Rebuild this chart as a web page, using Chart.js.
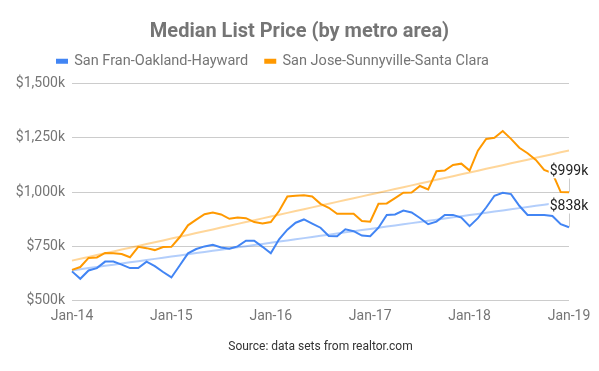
<!DOCTYPE html>
<html>
<head>
<meta charset="utf-8">
<script src="https://cdn.jsdelivr.net/npm/chart.js@4.4.1/dist/chart.umd.min.js"></script>
<style>
    html, body { margin: 0; padding: 0; background: #ffffff; }
    #wrap { width: 599px; height: 371px; }
</style>
</head>
<body>
<div id="wrap"><canvas id="priceChart" width="599" height="371"></canvas></div>
<script>
// Monthly labels Jan-14 .. Jan-19
const monthNames = ['Jan', 'Feb', 'Mar', 'Apr', 'May', 'Jun', 'Jul', 'Aug', 'Sep', 'Oct', 'Nov', 'Dec'];
const yearLabels = ['14', '15', '16', '17', '18', '19'];
const tickLabels = ['Jan-14', 'Jan-15', 'Jan-16', 'Jan-17', 'Jan-18', 'Jan-19'];

// Median list price, thousands of dollars
const sanFranValues = [
    635, 601, 639, 650, 680, 680, 666, 650, 650, 680, 659, 632,
    607, 662, 718, 738, 750, 757, 745, 739, 750, 776, 776, 748,
    718, 783, 827, 859, 874, 855, 836, 798, 797, 829, 820, 800,
    797, 836, 895, 897, 915, 906, 881, 852, 864, 895, 895, 883,
    843, 880, 929, 983, 997, 991, 937, 895, 895, 894, 890, 852,
    838
];
const sanJoseValues = [
    642, 655, 697, 699, 720, 718, 715, 700, 748, 742, 733, 747,
    748, 792, 847, 873, 898, 906, 897, 877, 883, 880, 862, 855,
    862, 913, 980, 983, 985, 980, 946, 928, 900, 900, 900, 867,
    864, 946, 948, 972, 997, 998, 1028, 1012, 1096, 1099, 1125, 1131,
    1099, 1191, 1245, 1250, 1281, 1245, 1204, 1179, 1148, 1102, 1088, 1000,
    999
];

const seriesNames = ['San Fran-Oakland-Hayward', 'San Jose-Sunnyville-Santa Clara'];
const seriesColors = ['#4285f4', '#ff9900'];
const trendColors = ['rgba(66,133,244,0.4)', 'rgba(255,153,0,0.4)'];
const sourceText = 'Source: data sets from realtor.com';

const labels = [];
yearLabels.forEach(function(y) {
    monthNames.forEach(function(m) {
        if (labels.length < sanFranValues.length) labels.push(m + '-' + y);
    });
});

// Least squares trend line over the month index
function trendLine(values) {
    const n = values.length;
    let sx = 0, sy = 0, sxy = 0, sxx = 0;
    values.forEach(function(v, i) {
        sx += i; sy += v; sxy += i * v; sxx += i * i;
    });
    const slope = (n * sxy - sx * sy) / (n * sxx - sx * sx);
    const icpt = (sy - slope * sx) / n;
    return values.map(function(v, i) { return icpt + slope * i; });
}

function fmtK(v) {
    return '$' + Math.round(v).toLocaleString('en-US') + 'k';
}

// Annotations at the last point of each series
const endLabelPlugin = {
    id: 'endLabels',
    afterDatasetsDraw(chart) {
        const ctx = chart.ctx;
        ctx.save();
        ctx.font = '14px Roboto';
        ctx.textAlign = 'center';
        ctx.textBaseline = 'middle';
        [0, 1].forEach(function(di) {
            const meta = chart.getDatasetMeta(di);
            const pt = meta.data[meta.data.length - 1];
            const data = chart.data.datasets[di].data;
            const txt = fmtK(data[data.length - 1]);
            const w = ctx.measureText(txt).width;
            const ty = pt.y - 21;
            ctx.strokeStyle = '#cccccc';
            ctx.lineWidth = 1;
            ctx.beginPath();
            ctx.moveTo(Math.round(pt.x) + 0.5, ty + 7);
            ctx.lineTo(Math.round(pt.x) + 0.5, pt.y);
            ctx.stroke();
            ctx.fillStyle = '#ffffff';
            ctx.fillRect(pt.x - w / 2 - 1, ty - 7, w + 2, 14);
            ctx.fillStyle = '#222222';
            ctx.fillText(txt, pt.x, ty);
        });
        ctx.restore();
    }
};

// Source caption under the x axis, centred on the plot area
const captionPlugin = {
    id: 'caption',
    afterDraw(chart) {
        const ctx = chart.ctx;
        const area = chart.chartArea;
        ctx.save();
        ctx.font = '12px Roboto';
        ctx.fillStyle = '#333333';
        ctx.textAlign = 'center';
        ctx.textBaseline = 'middle';
        ctx.fillText(sourceText, (area.left + area.right) / 2, 347);
        ctx.restore();
    }
};

// extra space under the legend, then nudge title / legend into place
const boxTweakPlugin = {
    id: 'boxTweak',
    beforeInit(chart) {
        const origFit = chart.legend.fit;
        chart.legend.fit = function() {
            origFit.bind(chart.legend)();
            this.height += 5;
        };
    },
    afterLayout(chart) {
        const lg = chart.legend;
        lg.left += 30;
        lg.right += 30;
        const tb = chart.titleBlock;
        const shift = 299.5 - (tb.left + tb.right) / 2;
        tb.left += shift;
        tb.right += shift;
        tb.top += 5;
        tb.bottom += 5;
    }
};

const ctx = document.getElementById('priceChart').getContext('2d');
const priceChart = new Chart(ctx, {
    type: 'line',
    data: {
        labels: labels,
        datasets: [
            {
                label: seriesNames[0],
                data: sanFranValues,
                borderColor: seriesColors[0],
                backgroundColor: seriesColors[0],
                borderWidth: 2,
                pointRadius: 0,
                tension: 0,
                order: 0
            },
            {
                label: seriesNames[1],
                data: sanJoseValues,
                borderColor: seriesColors[1],
                backgroundColor: seriesColors[1],
                borderWidth: 2,
                pointRadius: 0,
                tension: 0,
                order: 0
            },
            {
                label: 'trend0',
                data: trendLine(sanFranValues),
                borderColor: trendColors[0],
                borderWidth: 2,
                pointRadius: 0,
                order: 1
            },
            {
                label: 'trend1',
                data: trendLine(sanJoseValues),
                borderColor: trendColors[1],
                borderWidth: 2,
                pointRadius: 0,
                order: 1
            }
        ]
    },
    options: {
        responsive: false,
        animation: false,
        devicePixelRatio: 1,
        layout: {
            padding: { left: 10, right: 30, top: 0, bottom: 38.5 }
        },
        plugins: {
            title: {
                display: true,
                text: 'Median List Price (by metro area)',
                color: '#757575',
                font: { family: 'Roboto', size: 20, weight: 'bold', lineHeight: 1.0 },
                padding: { top: 17, bottom: 0 }
            },
            legend: {
                position: 'top',
                align: 'start',
                labels: {
                    font: { family: 'Roboto', size: 14.5 },
                    color: '#757575',
                    boxWidth: 10,
                    boxHeight: 3,
                    padding: 17,
                    filter: function(item) { return item.datasetIndex < 2; }
                }
            },
            tooltip: { enabled: false }
        },
        scales: {
            x: {
                grid: { display: false, drawTicks: false },
                border: { display: false },
                ticks: {
                    autoSkip: false,
                    maxRotation: 0,
                    padding: 7.5,
                    color: '#757575',
                    font: { family: 'Roboto', size: 14 },
                    callback: function(val, i) {
                        const lab = this.getLabelForValue(val);
                        return tickLabels.indexOf(lab) >= 0 ? lab : null;
                    }
                }
            },
            y: {
                min: 500,
                max: 1500,
                grid: { color: '#cccccc', drawTicks: false },
                border: { display: false },
                ticks: {
                    stepSize: 250,
                    padding: 7,
                    color: '#757575',
                    font: { family: 'Roboto', size: 14 },
                    callback: function(v) { return fmtK(v); }
                },
                afterFit: function(scale) { scale.width = 62; }
            }
        }
    },
    plugins: [boxTweakPlugin, endLabelPlugin, captionPlugin]
});
</script>
</body>
</html>
